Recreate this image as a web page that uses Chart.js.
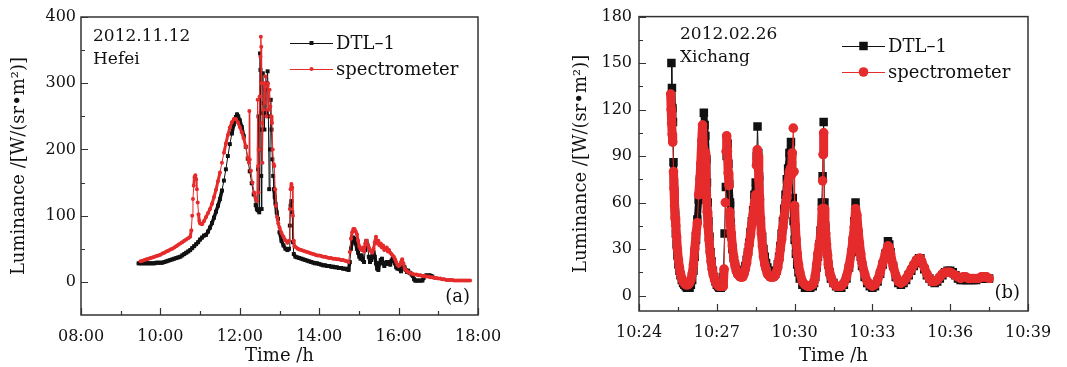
<!DOCTYPE html>
<html>
<head>
<meta charset="utf-8">
<script src="https://cdn.jsdelivr.net/npm/chart.js@4.4.0/dist/chart.umd.min.js"></script>
<style>
  html, body { margin: 0; padding: 0; background: #fff; }
  #wrap { position: relative; width: 1067px; height: 367px; }
  canvas { position: absolute; top: 0; }
  #chart-a { left: 0; }
  #chart-b { left: 540px; }
</style>
</head>
<body>
<div id="wrap">
  <canvas id="chart-a" width="530" height="367"></canvas>
  <canvas id="chart-b" width="527" height="367"></canvas>
</div>
<script>
// ── Data: panel (a) Hefei, time in hours ─────────────────────────────────────

const hefeiXTicks  = [8, 10, 12, 14, 16, 18];
const hefeiXLabels = ['08:00', '10:00', '12:00', '14:00', '16:00', '18:00'];
const hefeiXMinor  = [9, 11, 13, 15, 17];
const hefeiYTicks  = [0, 100, 200, 300, 400];
const hefeiYMinor  = [50, 150, 250, 350];

const hefeiDtl = [
  [9.45,28],[9.5,28],[9.55,28],[9.6,28],[9.65,28],[9.7,28],[9.75,28],[9.8,28],[9.85,28],[9.9,29],
  [9.95,29],[10.0,29],[10.05,29],[10.1,30],[10.15,31],[10.2,32],[10.25,33],[10.3,34],[10.35,35],[10.4,36],
  [10.45,37],[10.5,38],[10.55,40],[10.6,42],[10.65,44],[10.7,46],[10.75,48],[10.8,51],[10.85,54],[10.9,57],
  [10.95,60],[11.0,64],[11.05,67],[11.1,70],[11.15,71],[11.2,76],[11.25,82],[11.3,89],[11.35,97],[11.4,106],
  [11.45,115],[11.5,125],[11.55,138],[11.6,153],[11.65,170],[11.7,190],[11.75,208],[11.8,224],[11.85,238],[11.9,249],
  [11.93,253],[11.96,250],[12.0,244],[12.05,234],[12.1,220],[12.15,204],[12.2,186],[12.25,167],[12.3,149],[12.35,132],
  [12.4,116],[12.43,110],[12.45,108],[12.46,170],[12.47,250],[12.48,200],[12.49,105],[12.5,230],[12.51,345],[12.52,320],
  [12.53,255],[12.54,160],[12.55,110],[12.56,230],[12.58,315],[12.6,270],[12.62,230],[12.64,290],[12.66,255],[12.68,300],
  [12.7,318],[12.72,250],[12.74,140],[12.76,200],[12.78,275],[12.8,230],[12.82,185],[12.84,160],[12.86,140],[12.88,128],
  [12.9,118],[12.93,105],[12.96,95],[13.0,75],[13.05,62],[13.1,55],[13.15,50],[13.2,48],[13.24,50],[13.26,85],
  [13.28,115],[13.3,122],[13.32,105],[13.34,60],[13.36,42],[13.4,38],[13.45,37],[13.5,36],[13.55,35],[13.6,34],
  [13.65,33],[13.7,32],[13.75,31],[13.8,30],[13.85,29],[13.9,28],[13.95,28],[14.0,27],[14.05,26],[14.1,25],
  [14.15,25],[14.2,24],[14.25,24],[14.3,23],[14.35,23],[14.4,22],[14.45,22],[14.5,21],[14.55,21],[14.6,20],
  [14.65,20],[14.7,19],[14.74,18],[14.77,30],[14.8,50],[14.83,60],[14.86,67],[14.89,65],[14.92,58],[14.95,50],
  [14.98,44],[15.01,38],[15.04,35],[15.07,40],[15.1,33],[15.13,30],[15.16,48],[15.19,62],[15.22,55],[15.25,38],
  [15.28,30],[15.31,33],[15.34,40],[15.37,45],[15.4,38],[15.43,28],[15.46,20],[15.49,18],[15.52,28],[15.55,33],
  [15.58,35],[15.61,28],[15.64,24],[15.67,28],[15.7,30],[15.73,27],[15.76,30],[15.79,26],[15.82,32],[15.85,35],
  [15.88,32],[15.91,28],[15.94,22],[15.97,20],[16.0,22],[16.03,19],[16.06,16],[16.09,20],[16.12,24],[16.15,22],
  [16.18,18],[16.21,15],[16.24,17],[16.27,14],[16.3,13],[16.33,11],[16.36,9],[16.39,4],[16.42,2],[16.45,2],
  [16.5,2],[16.55,2],[16.6,2],[16.63,6],[16.66,9],[16.7,10],[16.74,9],[16.78,10],[16.82,9],[16.85,8]
];

const hefeiSpec = [
  [9.5,31],[9.55,32],[9.6,33],[9.65,34],[9.7,35],[9.75,36],[9.8,37],[9.85,38],[9.9,39],[9.95,40],
  [10.0,41],[10.05,43],[10.1,44],[10.15,46],[10.2,47],[10.25,49],[10.3,50],[10.35,52],[10.4,54],[10.45,56],
  [10.5,58],[10.55,60],[10.6,62],[10.65,64],[10.7,66],[10.75,68],[10.78,78],[10.8,100],[10.82,125],[10.84,145],
  [10.86,158],[10.88,161],[10.9,155],[10.92,140],[10.94,120],[10.96,102],[10.98,92],[11.0,88],[11.05,87],[11.1,92],
  [11.15,98],[11.2,104],[11.25,110],[11.3,118],[11.35,128],[11.4,139],[11.45,152],[11.5,165],[11.55,180],[11.6,195],
  [11.65,209],[11.7,222],[11.75,233],[11.8,241],[11.85,246],[11.9,246],[11.95,241],[12.0,234],[12.05,226],[12.1,217],
  [12.15,204],[12.2,188],[12.23,180],[12.24,258],[12.25,185],[12.28,168],[12.32,150],[12.36,135],[12.4,126],[12.43,122],
  [12.45,275],[12.46,175],[12.47,135],[12.49,200],[12.5,280],[12.52,340],[12.53,370],[12.54,355],[12.55,300],[12.56,240],
  [12.57,180],[12.59,260],[12.61,300],[12.63,270],[12.65,310],[12.67,250],[12.69,295],[12.71,300],[12.73,260],[12.75,290],
  [12.77,265],[12.79,250],[12.81,240],[12.83,200],[12.85,178],[12.87,175],[12.89,140],[12.91,115],[12.94,98],[12.97,88],
  [13.0,82],[13.05,74],[13.1,68],[13.15,63],[13.2,59],[13.24,62],[13.26,110],[13.28,140],[13.3,148],[13.32,142],
  [13.34,100],[13.36,62],[13.38,54],[13.42,52],[13.46,50],[13.5,49],[13.55,48],[13.6,47],[13.65,46],[13.7,45],
  [13.75,44],[13.8,43],[13.85,42],[13.9,41],[13.95,40],[14.0,40],[14.05,39],[14.1,38],[14.15,38],[14.2,37],
  [14.25,36],[14.3,36],[14.35,35],[14.4,35],[14.45,34],[14.5,34],[14.55,33],[14.6,33],[14.65,32],[14.7,31],
  [14.74,30],[14.77,45],[14.8,65],[14.83,75],[14.86,80],[14.89,80],[14.92,76],[14.95,72],[14.98,62],[15.01,54],
  [15.04,50],[15.07,48],[15.1,52],[15.13,46],[15.16,58],[15.19,62],[15.22,56],[15.25,52],[15.28,48],[15.31,46],
  [15.34,44],[15.37,50],[15.4,60],[15.43,68],[15.46,58],[15.49,62],[15.52,55],[15.55,58],[15.58,52],[15.61,55],
  [15.64,48],[15.67,50],[15.7,52],[15.73,46],[15.76,48],[15.79,44],[15.82,42],[15.85,40],[15.88,38],[15.91,34],
  [15.94,30],[15.97,26],[16.0,24],[16.03,26],[16.06,30],[16.09,34],[16.12,28],[16.15,20],[16.18,18],[16.21,16],
  [16.24,15],[16.27,14],[16.3,13],[16.35,12],[16.4,11],[16.45,11],[16.5,10],[16.55,10],[16.6,9],[16.65,9],
  [16.7,8],[16.75,8],[16.8,7],[16.85,7],[16.9,6],[16.95,6],[17.0,5],[17.05,5],[17.1,4],[17.15,4],
  [17.2,3],[17.25,3],[17.3,3],[17.35,3],[17.4,2],[17.45,2],[17.5,2],[17.55,2],[17.6,2],[17.65,2],
  [17.7,2],[17.75,2],[17.8,2]
];

// ── Data: panel (b) Xichang, time in minutes after 10:00 ─────────────────────

const xichangXTicks  = [24, 27, 30, 33, 36, 39];
const xichangXLabels = ['10:24', '10:27', '10:30', '10:33', '10:36', '10:39'];
const xichangXMinor  = [25.5, 28.5, 31.5, 34.5, 37.5];
const xichangYTicks  = [0, 30, 60, 90, 120, 150, 180];
const xichangYMinor  = [15, 45, 75, 105, 135, 165];

const xichangDtl = [
  [25.25,150],[25.27,134],[25.29,121],[25.31,112],[25.33,86],[25.35,73],[25.37,62],[25.39,54],[25.42,40],[25.45,33],
  [25.48,26],[25.52,20],[25.56,16],[25.6,13],[25.65,10],[25.7,8],[25.75,7],[25.8,6],[25.85,5],[25.9,5],
  [25.95,5],[26.0,7],[26.05,10],[26.1,16],[26.15,25],[26.2,36],[26.25,49],[26.3,62],[26.35,75],[26.4,88],
  [26.45,100],[26.5,118],[26.53,110],[26.56,103],[26.6,88],[26.62,73],[26.65,60],[26.68,48],[26.72,38],[26.76,28],
  [26.8,22],[26.85,16],[26.9,12],[26.95,9],[27.0,7],[27.05,6],[27.1,5],[27.15,5],[27.2,6],[27.25,12],
  [27.3,40],[27.35,70],[27.38,90],[27.42,98],[27.45,85],[27.48,72],[27.51,60],[27.54,47],[27.57,38],[27.6,30],
  [27.65,24],[27.7,20],[27.75,17],[27.8,15],[27.85,14],[27.9,13],[27.95,13],[28.0,14],[28.05,16],[28.1,19],
  [28.15,23],[28.2,28],[28.25,34],[28.3,41],[28.35,48],[28.4,55],[28.45,65],[28.5,73],[28.54,90],[28.57,109],
  [28.6,92],[28.63,77],[28.66,62],[28.7,48],[28.75,38],[28.8,30],[28.85,25],[28.9,21],[28.95,18],[29.0,16],
  [29.05,15],[29.1,14],[29.15,13],[29.2,13],[29.25,14],[29.3,16],[29.35,20],[29.4,25],[29.45,32],[29.5,40],
  [29.55,48],[29.6,56],[29.65,65],[29.7,75],[29.75,82],[29.8,92],[29.86,99],[29.9,84],[29.93,63],[29.96,48],
  [30.0,36],[30.05,27],[30.1,20],[30.15,15],[30.2,11],[30.3,7],[30.4,5],[30.5,5],[30.6,5],[30.7,6],
  [30.75,8],[30.8,12],[30.85,18],[30.9,25],[30.95,33],[31.0,42],[31.05,60],[31.08,77],[31.12,112],[31.15,60],
  [31.18,45],[31.21,35],[31.25,27],[31.3,20],[31.35,15],[31.4,11],[31.5,8],[31.6,6],[31.7,5],[31.8,5],
  [31.9,7],[32.0,11],[32.1,18],[32.2,28],[32.25,36],[32.3,48],[32.35,60],[32.4,50],[32.45,40],[32.5,32],
  [32.55,25],[32.6,19],[32.7,12],[32.8,8],[32.9,6],[33.0,5],[33.1,6],[33.2,9],[33.3,14],[33.4,20],
  [33.5,27],[33.6,35],[33.65,33],[33.7,28],[33.8,19],[33.9,12],[34.0,8],[34.1,7],[34.2,8],[34.3,10],
  [34.4,13],[34.5,16],[34.6,19],[34.7,22],[34.8,24],[34.85,24],[34.9,21],[35.0,17],[35.1,13],[35.2,11],
  [35.3,9],[35.4,8],[35.5,9],[35.6,11],[35.7,13],[35.8,15],[35.9,16],[36.0,16],[36.1,15],[36.2,13],
  [36.3,11],[36.4,10],[36.5,10],[36.6,10],[36.7,10],[36.8,10],[36.9,10],[37.0,10],[37.1,11],[37.2,11],
  [37.3,11],[37.4,11],[37.5,11]
];

const xichangSpec = [
  [25.22,130],[25.24,120],[25.26,111],[25.28,104],[25.3,99],[25.33,80],[25.35,69],[25.37,58],[25.39,50],[25.42,45],
  [25.45,38],[25.48,30],[25.52,23],[25.56,18],[25.6,14],[25.65,11],[25.7,9],[25.75,8],[25.8,7],[25.85,7],
  [25.9,7],[25.95,8],[26.0,10],[26.05,14],[26.1,20],[26.15,30],[26.2,40],[26.25,47],[26.3,65],[26.35,75],
  [26.38,85],[26.42,100],[26.45,110],[26.48,95],[26.5,86],[26.52,80],[26.55,92],[26.58,78],[26.6,65],[26.63,54],
  [26.66,45],[26.7,36],[26.74,28],[26.78,22],[26.82,17],[26.87,13],[26.92,10],[26.97,8],[27.02,7],[27.07,6],
  [27.12,6],[27.18,6],[27.25,6],[27.28,17],[27.33,60],[27.36,93],[27.38,103],[27.41,93],[27.44,79],[27.47,71],
  [27.5,54],[27.53,45],[27.56,40],[27.6,32],[27.65,25],[27.7,20],[27.75,16],[27.8,14],[27.85,13],[27.9,12],
  [27.95,12],[28.0,12],[28.05,14],[28.1,17],[28.15,21],[28.2,27],[28.25,33],[28.3,39],[28.35,46],[28.4,52],
  [28.45,59],[28.5,65],[28.53,84],[28.56,94],[28.59,90],[28.62,75],[28.65,62],[28.68,50],[28.72,40],[28.76,32],
  [28.8,25],[28.85,20],[28.9,17],[28.95,14],[29.0,13],[29.05,12],[29.1,12],[29.15,12],[29.2,12],[29.25,13],
  [29.3,15],[29.35,18],[29.4,23],[29.45,30],[29.5,36],[29.55,44],[29.6,51],[29.65,58],[29.7,63],[29.75,73],
  [29.8,80],[29.84,82],[29.88,78],[29.91,92],[29.95,108],[29.98,80],[30.0,58],[30.03,45],[30.06,36],[30.1,27],
  [30.15,20],[30.2,15],[30.3,9],[30.4,7],[30.5,6],[30.6,6],[30.7,7],[30.75,9],[30.8,13],[30.85,20],
  [30.9,27],[30.95,33],[31.0,38],[31.03,43],[31.06,56],[31.08,74],[31.1,91],[31.12,105],[31.14,56],[31.17,45],
  [31.2,40],[31.23,33],[31.27,26],[31.3,20],[31.35,15],[31.4,12],[31.5,8],[31.6,6],[31.7,6],[31.8,6],
  [31.9,8],[32.0,12],[32.1,19],[32.2,29],[32.25,36],[32.3,44],[32.35,56],[32.4,52],[32.45,42],[32.5,34],
  [32.55,27],[32.6,21],[32.7,14],[32.8,9],[32.9,7],[33.0,6],[33.1,7],[33.2,10],[33.3,15],[33.4,21],
  [33.5,27],[33.6,32],[33.65,31],[33.7,27],[33.8,19],[33.9,13],[34.0,9],[34.1,8],[34.2,9],[34.3,11],
  [34.4,14],[34.5,17],[34.6,20],[34.7,23],[34.8,24],[34.85,24],[34.9,22],[35.0,18],[35.1,14],[35.2,11],
  [35.3,9],[35.4,9],[35.5,10],[35.6,12],[35.7,14],[35.8,15],[35.9,15],[36.0,15],[36.1,14],[36.2,13],
  [36.3,12],[36.4,11],[36.5,12],[36.6,12],[36.7,11],[36.8,11],[36.9,11],[37.0,11],[37.1,11],[37.2,12],
  [37.3,12],[37.4,12],[37.5,11]
];

// ── Styling ──────────────────────────────────────────────────────────────────

const FONT  = '"DejaVu Serif", "Liberation Serif", serif';
const BLACK = '#111111';
const RED   = '#e52b2b';
const INK   = '#111111';

const toXY = arr => arr.map(p => ({ x: p[0], y: p[1] }));

// frame, inward ticks, notes, legend
const decor = {
  id: 'decor',
  afterDatasetsDraw(chart, args, o) {
    const { ctx, chartArea: a, scales: { x, y } } = chart;
    ctx.save();
    ctx.strokeStyle = '#333';
    ctx.lineWidth = 1.5;
    ctx.strokeRect(a.left, a.top, a.right - a.left, a.bottom - a.top);

    ctx.lineWidth = 1.2;
    ctx.beginPath();
    o.yMajor.forEach(v => { const p = Math.round(y.getPixelForValue(v)) + 0.5; ctx.moveTo(a.left, p); ctx.lineTo(a.left + 7, p); });
    o.yMinor.forEach(v => { const p = Math.round(y.getPixelForValue(v)) + 0.5; ctx.moveTo(a.left, p); ctx.lineTo(a.left + 4, p); });
    o.xMajor.forEach(v => { const p = Math.round(x.getPixelForValue(v)) + 0.5; ctx.moveTo(p, a.bottom); ctx.lineTo(p, a.bottom - 7); });
    o.xMinor.forEach(v => { const p = Math.round(x.getPixelForValue(v)) + 0.5; ctx.moveTo(p, a.bottom); ctx.lineTo(p, a.bottom - 4); });
    ctx.stroke();

    ctx.fillStyle = INK;
    ctx.font = '17px ' + FONT;
    ctx.textBaseline = 'alphabetic';
    o.notes.forEach((t, i) => ctx.fillText(t, o.noteX, o.noteY + i * 23));

    ctx.font = '18px ' + FONT;
    ctx.textAlign = 'right';
    ctx.fillText(o.tag, a.right - 8, a.bottom - 13);

    // legend: line with marker, then label
    ctx.textAlign = 'left';
    ctx.textBaseline = 'middle';
    chart.data.datasets.forEach((ds, i) => {
      const ly = o.legY + i * 26;
      ctx.strokeStyle = ds.borderColor;
      ctx.lineWidth = 1;
      ctx.beginPath();
      ctx.moveTo(o.legX, ly + 0.5);
      ctx.lineTo(o.legX + 43, ly + 0.5);
      ctx.stroke();
      ctx.fillStyle = ds.borderColor;
      const cx = o.legX + 21.5;
      if (ds.pointStyle === 'rect') {
        const s = ds.pointRadius * Math.SQRT1_2;
        ctx.fillRect(cx - s, ly - s, 2 * s, 2 * s);
      } else {
        ctx.beginPath();
        ctx.arc(cx, ly, ds.pointRadius, 0, Math.PI * 2);
        ctx.fill();
      }
      ctx.fillStyle = INK;
      ctx.fillText(ds.label, o.legX + 46, ly + 1);
    });
    ctx.restore();
  }
};

// smooth stretches are drawn as a thick band, jumps as a thin line
const segWidth = (thick, jump) => c =>
  Math.abs(c.p1.parsed.y - c.p0.parsed.y) < jump ? thick : 1;

function makeChart(id, cfg) {
  return new Chart(document.getElementById(id), {
    type: 'line',
    data: {
      datasets: [
        { label: 'DTL–1', data: toXY(cfg.dtl), order: 1,
          borderColor: BLACK, backgroundColor: BLACK, borderWidth: 1,
          borderJoinStyle: 'round', borderCapStyle: 'round',
          segment: { borderWidth: segWidth(cfg.dtlW, cfg.jump) },
          pointStyle: 'rect', pointRadius: cfg.dtlR, pointBorderWidth: 0,
          pointBackgroundColor: BLACK, tension: 0 },
        { label: 'spectrometer', data: toXY(cfg.spec), order: 0,
          borderColor: RED, backgroundColor: RED, borderWidth: 1,
          borderJoinStyle: 'round', borderCapStyle: 'round',
          segment: { borderWidth: segWidth(cfg.specW, cfg.jump) },
          pointStyle: 'circle', pointRadius: cfg.specR, pointBorderWidth: 0,
          pointBackgroundColor: RED, tension: 0 }
      ]
    },
    options: {
      responsive: false,
      animation: false,
      devicePixelRatio: 1,
      layout: { padding: { top: cfg.padTop, right: cfg.padRight, left: 0, bottom: 0 } },
      plugins: {
        legend: { display: false },
        tooltip: { enabled: false },
        decor: cfg.decor
      },
      scales: {
        x: {
          type: 'linear', min: cfg.xTicks[0], max: cfg.xTicks[cfg.xTicks.length - 1],
          grid: { display: false, drawTicks: false }, border: { display: false },
          afterBuildTicks: s => { s.ticks = cfg.xTicks.map(v => ({ value: v })); },
          afterFit: s => { s.height = cfg.xAxisH; },
          ticks: { padding: cfg.xPad, color: INK, maxRotation: 0, autoSkip: false,
                   font: { family: FONT, size: 16 },
                   callback: v => cfg.xLabels[cfg.xTicks.indexOf(v)] },
          title: { display: true, text: 'Time /h', color: INK,
                   font: { family: FONT, size: 18 }, padding: { top: 0, bottom: 0 } }
        },
        y: {
          type: 'linear', min: cfg.yMin, max: cfg.yTicks[cfg.yTicks.length - 1],
          grid: { display: false, drawTicks: false }, border: { display: false },
          afterBuildTicks: s => { s.ticks = cfg.yTicks.map(v => ({ value: v })); },
          afterFit: s => { s.width = cfg.yAxisW; },
          ticks: { padding: cfg.yPad, color: INK, font: { family: FONT, size: 16 } },
          title: { display: true, text: 'Luminance /[W/(sr•m²)]', color: INK,
                   font: { family: FONT, size: 18 }, padding: { top: cfg.yTitlePad, bottom: 0 } }
        }
      }
    },
    plugins: [decor]
  });
}

window.onload = () => {
  makeChart('chart-a', {
    dtl: hefeiDtl, spec: hefeiSpec, dtlR: 2.8, specR: 2, dtlW: 3.5, specW: 3, jump: 15,
    xTicks: hefeiXTicks, xLabels: hefeiXLabels, yTicks: hefeiYTicks, yMin: -50,
    padTop: 17, padRight: 52, xAxisH: 52, yAxisW: 81, xPad: 12, yPad: 5, yTitlePad: 9,
    decor: { xMajor: hefeiXTicks, xMinor: hefeiXMinor, yMajor: hefeiYTicks, yMinor: hefeiYMinor,
             notes: ['2012.11.12', 'Hefei'], noteX: 93, noteY: 41, tag: '(a)',
             legX: 290, legY: 43 }
  });

  makeChart('chart-b', {
    dtl: xichangDtl, spec: xichangSpec, dtlR: 6, specR: 4.8, dtlW: 7, specW: 9, jump: 16,
    xTicks: xichangXTicks, xLabels: xichangXLabels, yTicks: xichangYTicks, yMin: -10,
    padTop: 16, padRight: 39, xAxisH: 56, yAxisW: 99, xPad: 12, yPad: 7, yTitlePad: 31,
    decor: { xMajor: xichangXTicks, xMinor: xichangXMinor, yMajor: xichangYTicks, yMinor: xichangYMinor,
             notes: ['2012.02.26', 'Xichang'], noteX: 140, noteY: 39, tag: '(b)',
             legX: 302, legY: 46 }
  });
};
</script>
</body>
</html>
